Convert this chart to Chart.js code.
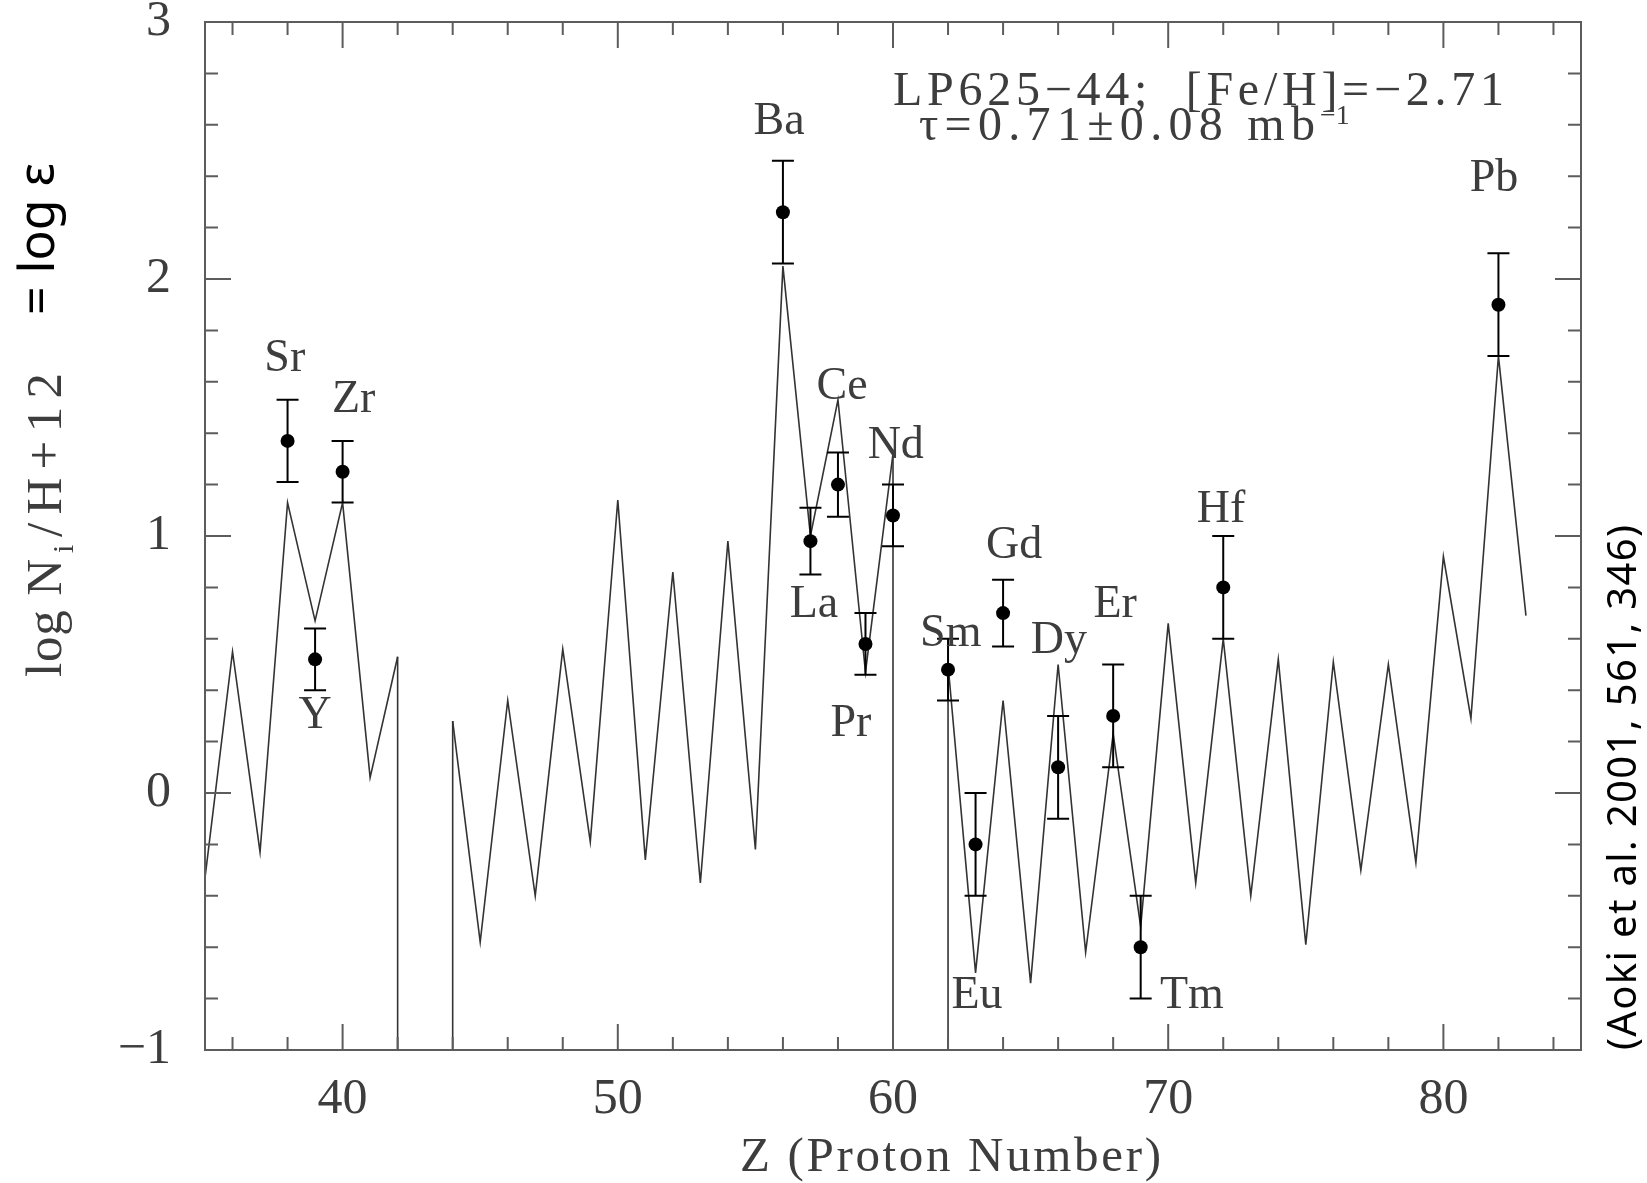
<!DOCTYPE html>
<html lang="en">
<head>
<meta charset="utf-8">
<title>LP625-44 abundances</title>
<script src="https://cdn.jsdelivr.net/npm/chart.js@4.4.1/dist/chart.umd.min.js"></script>
<style>
  html, body { margin: 0; padding: 0; background: #fff; }
  canvas { display: block; }
</style>
</head>
<body>
<canvas id="abundChart" width="1647" height="1183"></canvas>
<script>
// s-process model, one value per element Z = 35..83 (Tc, Pm: none)
const modelZ = [35, 36, 37, 38, 39, 40, 41, 42, 43, 44,
                45, 46, 47, 48, 49, 50, 51, 52, 53, 54,
                55, 56, 57, 58, 59, 60, 61, 62, 63, 64,
                65, 66, 67, 68, 69, 70, 71, 72, 73, 74,
                75, 76, 77, 78, 79, 80, 81, 82, 83];
const modelLogEps = [-0.33, 0.55, -0.23, 1.13, 0.67, 1.13, 0.06, 0.53, null, 0.28,
                     -0.58, 0.36, -0.40, 0.56, -0.19, 1.14, -0.26, 0.86, -0.35, 0.98,
                     -0.22, 2.05, 1.00, 1.53, 0.47, 1.32, null, 0.50, -0.70, 0.36,
                     -0.74, 0.50, -0.62, 0.23, -0.52, 0.66, -0.35, 0.60, -0.40, 0.52,
                     -0.59, 0.51, -0.30, 0.50, -0.27, 0.92, 0.29, 1.70, 0.69];

// measured abundances
const obsElements = ['Sr', 'Y', 'Zr', 'Ba', 'La', 'Ce', 'Pr', 'Nd', 'Sm', 'Eu', 'Gd', 'Dy', 'Er', 'Tm', 'Hf', 'Pb'];
const obsZ = [38, 39, 40, 56, 57, 58, 59, 60, 62, 63, 64, 66, 68, 69, 72, 82];
const obsLogEps = [1.37, 0.52, 1.25, 2.26, 0.98, 1.20, 0.58, 1.08, 0.48, -0.20, 0.70, 0.10, 0.30, -0.60, 0.80, 1.90];
const obsErr = [0.16, 0.12, 0.12, 0.20, 0.13, 0.125, 0.12, 0.12, 0.12, 0.20, 0.13, 0.20, 0.20, 0.20, 0.20, 0.20];

const xTickValues = [40, 50, 60, 70, 80];
const yTickValues = [-1, 0, 1, 2, 3];

// where the element names sit, in axis units (same order as obsElements)
const labelSpots = [[37.9, 1.69], [39.0, 0.30], [40.4, 1.53], [55.86, 2.61], [57.13, 0.73], [58.15, 1.58],
                    [58.47, 0.27], [60.1, 1.35], [62.1, 0.62], [63.05, -0.79], [64.4, 0.96], [66.03, 0.59],
                    [68.07, 0.73], [70.86, -0.79], [71.92, 1.10], [81.84, 2.39]];

const SERIF = '"Liberation Serif", "DejaVu Serif", serif';
const SANS = '"Noto Sans", "Open Sans", sans-serif';
const INK = '#3d3d3d';
const FRAME = '#5c5c5c';

const modelPoints = modelZ.map((z, i) => ({ x: z, y: modelLogEps[i] }));
const obsPoints = obsZ.map((z, i) => ({ x: z, y: obsLogEps[i] }));

// draw text stretched with letter spacing to a given width (left aligned)
function spacedText(ctx, text, x, y, width) {
    ctx.letterSpacing = '0px';
    const w = ctx.measureText(text).width;
    const gap = (width - w) / Math.max(text.length - 1, 1);
    ctx.letterSpacing = gap + 'px';
    ctx.fillText(text, x, y);
    ctx.letterSpacing = '0px';
}

const frameTicks = {
    id: 'frameTicks',
    afterDraw(chart) {
        const { ctx, chartArea: a, scales: { x, y } } = chart;
        ctx.save();
        ctx.strokeStyle = FRAME;
        ctx.lineWidth = 2;
        ctx.strokeRect(a.left, a.top, a.right - a.left, a.bottom - a.top);
        ctx.beginPath();
        for (let z = 36; z < x.max; z += 2) {
            const px = x.getPixelForValue(z);
            const len = z % 10 === 0 ? 26 : 13;
            ctx.moveTo(px, a.bottom); ctx.lineTo(px, a.bottom - len);
            ctx.moveTo(px, a.top); ctx.lineTo(px, a.top + len);
        }
        for (let k = 1; k < 20; k++) {
            const py = y.getPixelForValue(y.min + k * 0.2);
            const len = k % 5 === 0 ? 26 : 13;
            ctx.moveTo(a.left, py); ctx.lineTo(a.left + len, py);
            ctx.moveTo(a.right, py); ctx.lineTo(a.right - len, py);
        }
        ctx.stroke();
        ctx.restore();
    }
};

// model drops to the floor where an element has no value
const gapDrops = {
    id: 'gapDrops',
    beforeDatasetsDraw(chart) {
        const { ctx, chartArea: a, scales: { x, y } } = chart;
        ctx.save();
        ctx.strokeStyle = '#333';
        ctx.lineWidth = 1.6;
        ctx.beginPath();
        modelLogEps.forEach((v, i) => {
            if (v !== null) return;
            [i - 1, i + 1].forEach(j => {
                const px = x.getPixelForValue(modelZ[j]);
                ctx.moveTo(px, y.getPixelForValue(modelLogEps[j]));
                ctx.lineTo(px, a.bottom);
            });
        });
        ctx.stroke();
        ctx.restore();
    }
};

const errorBars = {
    id: 'errorBars',
    afterDatasetsDraw(chart) {
        const { ctx, scales: { x, y } } = chart;
        ctx.save();
        ctx.strokeStyle = '#000';
        ctx.lineWidth = 2;
        ctx.beginPath();
        obsZ.forEach((z, i) => {
            const px = x.getPixelForValue(z);
            const top = y.getPixelForValue(obsLogEps[i] + obsErr[i]);
            const bot = y.getPixelForValue(obsLogEps[i] - obsErr[i]);
            ctx.moveTo(px, top); ctx.lineTo(px, bot);
            ctx.moveTo(px - 11, top); ctx.lineTo(px + 11, top);
            ctx.moveTo(px - 11, bot); ctx.lineTo(px + 11, bot);
        });
        ctx.stroke();
        ctx.restore();
    }
};

const texts = {
    id: 'texts',
    afterDraw(chart) {
        const { ctx, scales: { x, y } } = chart;
        ctx.save();
        ctx.fillStyle = INK;

        // element names
        ctx.font = `46px ${SERIF}`;
        ctx.textAlign = 'center';
        ctx.textBaseline = 'middle';
        obsElements.forEach((el, i) => {
            ctx.fillText(el, x.getPixelForValue(labelSpots[i][0]), y.getPixelForValue(labelSpots[i][1]));
        });

        ctx.textAlign = 'left';
        ctx.textBaseline = 'alphabetic';

        // x axis title
        ctx.font = `49px ${SERIF}`;
        spacedText(ctx, 'Z (Proton Number)', 740, 1171, 421);

        // star info
        ctx.font = `48px ${SERIF}`;
        spacedText(ctx, 'LP625\u221244;  [Fe/H]=\u22122.71', 893, 105, 611);
        spacedText(ctx, '\u03c4=0.71\u00b10.08 mb', 919, 140, 396);
        ctx.font = `28px ${SERIF}`;
        ctx.fillText('\u22121', 1320, 124);

        // y axis title
        ctx.save();
        ctx.translate(61, 677);
        ctx.rotate(-Math.PI / 2);
        ctx.font = `51px ${SERIF}`;
        spacedText(ctx, 'log N', 0, 0, 118);
        ctx.font = `30px ${SERIF}`;
        ctx.fillText('i', 124, 12);
        ctx.font = `51px ${SERIF}`;
        spacedText(ctx, '/H+12', 140, 0, 164);
        ctx.restore();

        ctx.save();
        ctx.fillStyle = '#000';
        ctx.translate(54, 315);
        ctx.rotate(-Math.PI / 2);
        ctx.font = `50px ${SANS}`;
        ctx.fillText('= log \u03b5', 0, 0);
        ctx.restore();

        // reference
        ctx.save();
        ctx.fillStyle = '#000';
        ctx.translate(1636, 1050);
        ctx.rotate(-Math.PI / 2);
        ctx.font = `40px ${SANS}`;
        spacedText(ctx, '(Aoki et al. 2001, 561, 346)', 0, 0, 525);
        ctx.restore();

        ctx.restore();
    }
};

new Chart(document.getElementById('abundChart'), {
    type: 'scatter',
    data: {
        datasets: [
            {
                type: 'line',
                label: 'model',
                data: modelPoints,
                borderColor: '#333',
                borderWidth: 1.6,
                pointRadius: 0,
                tension: 0,
                spanGaps: false,
                order: 2
            },
            {
                label: 'observed',
                data: obsPoints,
                pointRadius: 7,
                pointBackgroundColor: '#000',
                pointBorderWidth: 0,
                order: 1
            }
        ]
    },
    options: {
        responsive: false,
        animation: false,
        devicePixelRatio: 1,
        layout: { padding: { top: 22, right: 66, bottom: 0, left: 0 } },
        plugins: {
            legend: { display: false },
            tooltip: { enabled: false }
        },
        scales: {
            x: {
                type: 'linear',
                min: 35,
                max: 85,
                grid: { display: false, drawTicks: false },
                border: { display: false },
                afterBuildTicks: s => { s.ticks = xTickValues.map(v => ({ value: v })); },
                afterFit: s => { s.height = 133; s.paddingLeft = 0; s.paddingRight = 0; },
                ticks: {
                    font: { family: SERIF, size: 50 },
                    color: INK,
                    padding: 20,
                    maxRotation: 0,
                    autoSkip: false
                }
            },
            y: {
                type: 'linear',
                min: -1,
                max: 3,
                grid: { display: false, drawTicks: false },
                border: { display: false },
                afterBuildTicks: s => { s.ticks = yTickValues.map(v => ({ value: v })); },
                afterFit: s => { s.width = 205; s.paddingTop = 0; s.paddingBottom = 0; },
                ticks: {
                    font: { family: SERIF, size: 50 },
                    color: INK,
                    padding: 34,
                    autoSkip: false,
                    callback: v => v < 0 ? '\u2212' + Math.abs(v) : String(v)
                }
            }
        }
    },
    plugins: [gapDrops, errorBars, frameTicks, texts]
});
</script>
</body>
</html>
